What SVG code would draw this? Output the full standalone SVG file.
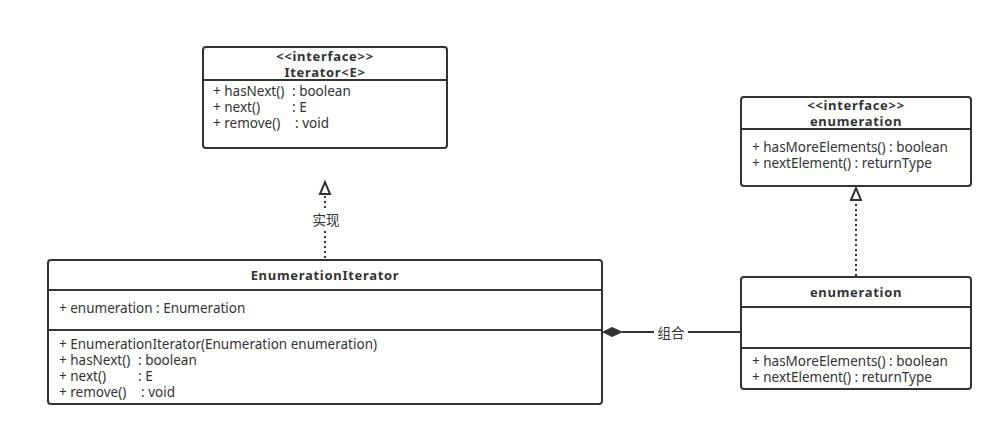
<svg xmlns="http://www.w3.org/2000/svg" width="1002" height="436" viewBox="0 0 1002 436">
<style>
.box{fill:#fff;stroke:#333;stroke-width:2}
.div{stroke:#333;stroke-width:2}
text{font-family:"Noto Sans","Noto Sans CJK SC",sans-serif;font-size:13.5px;fill:#333;white-space:pre}
.t{font-size:13px;font-weight:bold;text-anchor:middle;letter-spacing:0.7px}
.c{text-anchor:middle}
.dash{stroke:#333;stroke-width:2;stroke-dasharray:2 3;fill:none}
.ln{stroke:#333;stroke-width:2;fill:none}
.tri{fill:#fff;stroke:#333;stroke-width:2}
</style>
<g id="connectors">
<line class="dash" x1="325" y1="258" x2="325" y2="195"/>
<path class="tri" d="M320 194 L325 182 L330 194 Z"/>
<rect x="308" y="211" width="36" height="18" fill="#fff"/>
<text class="c" x="326" y="225">实现</text>
<line class="dash" x1="856" y1="276" x2="856" y2="201"/>
<path class="tri" d="M851 200 L856 188 L861 200 Z"/>
<line class="ln" x1="622" y1="332" x2="741" y2="332"/>
<path d="M603 332 L612 327.5 L622 332 L612 336.5 Z" fill="#333" stroke="#333" stroke-width="1"/>
<rect x="654" y="324" width="34" height="18" fill="#fff"/>
<text class="c" x="671" y="338">组合</text>
</g>
<g id="Iterator">
<rect class="box" x="203" y="47" width="244" height="101" rx="3"/>
<line class="div" x1="203" y1="80" x2="447" y2="80"/>
<text class="t" x="325" y="61">&lt;&lt;interface&gt;&gt;</text>
<text class="t" x="325" y="77">Iterator&lt;E&gt;</text>
<text x="213" y="96">+ hasNext()<tspan x="292">: boolean</tspan></text>
<text x="213" y="112">+ next()<tspan x="292">: E</tspan></text>
<text x="213" y="128">+ remove()<tspan x="295">: void</tspan></text>
</g>
<g id="enumerationInterface">
<rect class="box" x="741" y="97" width="230" height="89" rx="3"/>
<line class="div" x1="741" y1="129" x2="971" y2="129"/>
<text class="t" x="856" y="110">&lt;&lt;interface&gt;&gt;</text>
<text class="t" x="856" y="126">enumeration</text>
<text x="752" y="152">+ hasMoreElements() : boolean</text>
<text x="752" y="168">+ nextElement() : returnType</text>
</g>
<g id="EnumerationIterator">
<rect class="box" x="48" y="260" width="554" height="144" rx="3"/>
<line class="div" x1="48" y1="290" x2="602" y2="290"/>
<line class="div" x1="48" y1="330" x2="602" y2="330"/>
<text class="t" x="325" y="280">EnumerationIterator</text>
<text x="59" y="313">+ enumeration : Enumeration</text>
<text x="59" y="349">+ EnumerationIterator(Enumeration enumeration)</text>
<text x="59" y="365">+ hasNext()<tspan x="138">: boolean</tspan></text>
<text x="59" y="381">+ next()<tspan x="138">: E</tspan></text>
<text x="59" y="397">+ remove()<tspan x="141">: void</tspan></text>
</g>
<g id="enumerationClass">
<rect class="box" x="741" y="277" width="230" height="112" rx="3"/>
<line class="div" x1="741" y1="307" x2="971" y2="307"/>
<line class="div" x1="741" y1="348" x2="971" y2="348"/>
<text class="t" x="856" y="297">enumeration</text>
<text x="752" y="366">+ hasMoreElements() : boolean</text>
<text x="752" y="382">+ nextElement() : returnType</text>
</g>
</svg>
